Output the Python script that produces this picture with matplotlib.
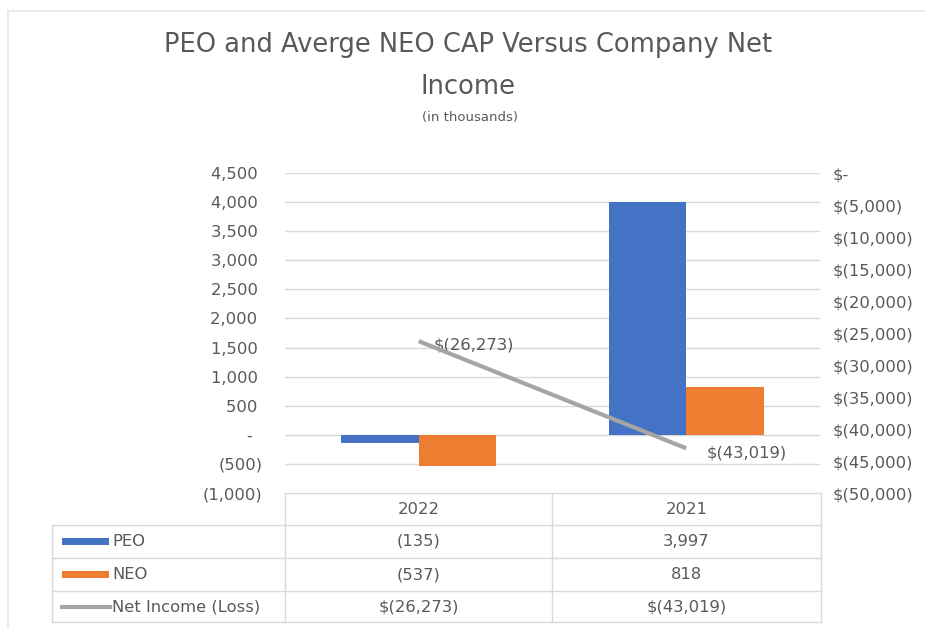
import numpy as np
import matplotlib
matplotlib.use("Agg")
import matplotlib.pyplot as plt
from matplotlib.ticker import FuncFormatter, MultipleLocator

# data (in thousands)
years = ["2022", "2021"]
peo = [-135, 3997]
neo = [-537, 818]
net_income = [-26273, -43019]

peo_labels = ["(135)", "3,997"]
neo_labels = ["(537)", "818"]
ni_labels = ["$(26,273)", "$(43,019)"]

BLUE = "#4472C4"
ORANGE = "#ED7D31"
GRAY = "#A5A5A5"
TEXT = "#595959"
GRID = "#D9D9D9"

plt.rcParams["font.family"] = ["DejaVu Sans"]
FS = 11.8

W, H = 925, 628
fig = plt.figure(figsize=(W / 100, H / 100), dpi=100)
fig.patch.set_facecolor("white")


def px_axes(x0, y0, x1, y1):
    # axes rectangle given in pixel coords (origin top-left)
    return [x0 / W, 1 - y1 / H, (x1 - x0) / W, (y1 - y0) / H]


# plot area
ax = fig.add_axes(px_axes(285, 173, 820, 493))
x = np.arange(len(years))
bw = 0.29
ax.bar(x - bw / 2, peo, bw, color=BLUE, zorder=3)
ax.bar(x + bw / 2, neo, bw, color=ORANGE, zorder=3)
ax.set_xlim(-0.5, 1.5)
ax.set_ylim(-1000, 4500)
ax.yaxis.set_major_locator(MultipleLocator(500))
ax.grid(axis="y", color=GRID, linewidth=1, zorder=0)
ax.set_xticks([])
for s in ax.spines.values():
    s.set_visible(False)


def left_fmt(v, pos):
    if abs(v) < 1e-6:
        return "-  "
    if v < 0:
        return "({:,.0f})".format(-v)
    return "{:,.0f} ".format(v)


ax.yaxis.set_major_formatter(FuncFormatter(left_fmt))
ax.tick_params(axis="y", length=0, pad=16, labelsize=FS, labelcolor=TEXT)

# secondary axis for net income
ax2 = ax.twinx()
ax2.plot(x, net_income, color=GRAY, linewidth=3, zorder=4, solid_capstyle="butt")
ax2.set_ylim(-50000, 0)
ax2.yaxis.set_major_locator(MultipleLocator(5000))


def right_fmt(v, pos):
    if abs(v) < 1e-6:
        return "$-"
    return "$({:,.0f})".format(-v)


ax2.yaxis.set_major_formatter(FuncFormatter(right_fmt))
ax2.tick_params(axis="y", length=0, pad=9, labelsize=FS, labelcolor=TEXT)
for s in ax2.spines.values():
    s.set_visible(False)

ax2.annotate(ni_labels[0], (x[0], net_income[0]), xytext=(11, -3),
             textcoords="offset points", ha="left", va="center",
             fontsize=FS, color=TEXT)
ax2.annotate(ni_labels[1], (x[1], net_income[1]), xytext=(15, -3.5),
             textcoords="offset points", ha="left", va="center",
             fontsize=FS, color=TEXT)

# overlay in pixel coordinates for title, border and data table
ov = fig.add_axes([0, 0, 1, 1], zorder=-1)
ov.set_xlim(0, W)
ov.set_ylim(H, 0)
ov.axis("off")

# chart border
ov.plot([8, W + 5], [11, 11], color="#E6E6E6", lw=1.2)
ov.plot([8, 8], [11, H + 5], color="#E6E6E6", lw=1.2)

ov.text(468, 45, "PEO and Averge NEO CAP Versus Company Net", ha="center",
        va="center", fontsize=18.5, color=TEXT)
ov.text(468, 87, "Income", ha="center", va="center", fontsize=18.5, color=TEXT)
ov.text(470, 117, "(in thousands)", ha="center", va="center", fontsize=9.5,
        color=TEXT)

# data table
tl = "#D9D9D9"
cols = [52, 285, 552, 821]
rows = [493, 525, 558, 591, 622]
ov.plot([285, 821], [493, 493], color=tl, lw=1)
for yy in rows[1:]:
    ov.plot([52, 821], [yy, yy], color=tl, lw=1)
ov.plot([52, 52], [525, 622], color=tl, lw=1)
for xx in cols[1:]:
    ov.plot([xx, xx], [493, 622], color=tl, lw=1)

centers = [(cols[1] + cols[2]) / 2, (cols[2] + cols[3]) / 2]
row_mid = [(rows[i] + rows[i + 1]) / 2 for i in range(4)]
for i, yr in enumerate(years):
    ov.text(centers[i], row_mid[0], yr, ha="center", va="center",
            fontsize=FS, color=TEXT)
    ov.text(centers[i], row_mid[1], peo_labels[i], ha="center", va="center",
            fontsize=FS, color=TEXT)
    ov.text(centers[i], row_mid[2], neo_labels[i], ha="center", va="center",
            fontsize=FS, color=TEXT)
    ov.text(centers[i], row_mid[3], ni_labels[i], ha="center", va="center",
            fontsize=FS, color=TEXT)

# legend keys
ov.fill_between([62, 109], row_mid[1] - 3.5, row_mid[1] + 3.5, color=BLUE, lw=0)
ov.fill_between([62, 109], row_mid[2] - 3.5, row_mid[2] + 3.5, color=ORANGE, lw=0)
ov.plot([62, 110], [row_mid[3], row_mid[3]], color=GRAY, lw=3)
ov.text(112, row_mid[1], "PEO", ha="left", va="center", fontsize=FS, color=TEXT)
ov.text(112, row_mid[2], "NEO", ha="left", va="center", fontsize=FS, color=TEXT)
ov.text(112, row_mid[3], "Net Income (Loss)", ha="left", va="center",
        fontsize=FS, color=TEXT)

fig.savefig("out.png", dpi=100, facecolor="white")
